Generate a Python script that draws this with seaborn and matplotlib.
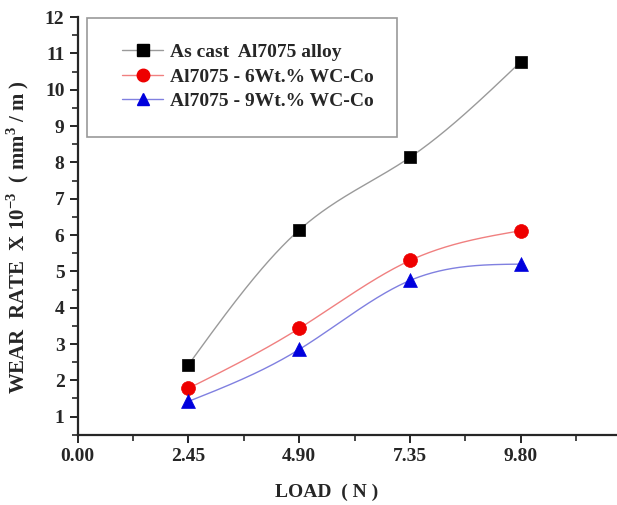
import numpy as np
import pandas as pd
import seaborn as sns
import matplotlib.pyplot as plt
from matplotlib.patches import Rectangle
from matplotlib.ticker import MultipleLocator

# data
load = [2.45, 4.90, 7.35, 9.80]
as_cast = [2.43, 6.14, 8.14, 10.77]
wc6 = [1.78, 3.43, 5.30, 6.12]
wc9 = [1.42, 2.85, 4.75, 5.20]
labels = ["As cast  Al7075 alloy", "Al7075 - 6Wt.% WC-Co", "Al7075 - 9Wt.% WC-Co"]
xticks = [0.00, 2.45, 4.90, 7.35, 9.80]

sns.set_style("ticks")
plt.rcParams['font.family'] = ['Liberation Serif', 'DejaVu Serif']
plt.rcParams['mathtext.fontset'] = 'custom'
plt.rcParams['mathtext.rm'] = 'Liberation Serif:bold'
plt.rcParams['mathtext.bf'] = 'Liberation Serif:bold'


def spline(x, y, n=200):
    # natural cubic spline, used only to draw the connecting line
    x = np.asarray(x, float); y = np.asarray(y, float)
    k = len(x); h = np.diff(x)
    A = np.zeros((k, k)); b = np.zeros(k)
    A[0, 0] = A[-1, -1] = 1
    for i in range(1, k - 1):
        A[i, i - 1] = h[i - 1]; A[i, i] = 2 * (h[i - 1] + h[i]); A[i, i + 1] = h[i]
        b[i] = 6 * ((y[i + 1] - y[i]) / h[i] - (y[i] - y[i - 1]) / h[i - 1])
    M = np.linalg.solve(A, b)
    xs = np.linspace(x[0], x[-1], n)
    j = np.clip(np.searchsorted(x, xs) - 1, 0, k - 2)
    t0 = x[j + 1] - xs; t1 = xs - x[j]
    ys = (M[j] * t0**3 + M[j + 1] * t1**3) / (6 * h[j]) \
        + (y[j] / h[j] - M[j] * h[j] / 6) * t0 + (y[j + 1] / h[j] - M[j + 1] * h[j] / 6) * t1
    return xs, ys


fig = plt.figure(figsize=(6.17, 5.05), dpi=100)
ax = fig.add_axes([0.126, 0.139, 0.874, 0.827])

series = [(as_cast, "#9a9a9a", "black", "s", 9),
          (wc6, "#f08080", "#ee0000", "o", 10),
          (wc9, "#8080e0", "#0000dd", "^", 10)]
handles = []
for (vals, lc, mc, mk, ms), lab in zip(series, labels):
    xs, ys = spline(load, vals)
    ax.plot(xs, ys, color=lc, lw=1.0)
    df = pd.DataFrame({"load": load, "rate": vals})
    sns.scatterplot(data=df, x="load", y="rate", ax=ax, marker=mk, s=ms**2,
                    color=mc, edgecolor=mc, linewidth=0.5, zorder=3)
    h, = ax.plot([], [], color=lc, lw=1.0, marker=mk, markersize=ms * 0.9,
                 markerfacecolor=mc, markeredgecolor=mc, label=lab)
    handles.append(h)

ax.set_xlim(0, 11.93)
ax.set_ylim(0.5, 12)
ax.set_xticks(xticks)
ax.set_xticklabels([f"{v:.2f}" for v in xticks])
ax.xaxis.set_minor_locator(MultipleLocator(1.225))
ax.yaxis.set_major_locator(MultipleLocator(1))
ax.yaxis.set_minor_locator(MultipleLocator(0.5))
ax.set_yticks(range(1, 13))
sns.despine(ax=ax)
for s in ["left", "bottom"]:
    ax.spines[s].set_linewidth(1.6)
ax.tick_params(which="major", direction="out", length=6, width=1.4, labelsize=14)
ax.tick_params(which="minor", direction="out", length=4, width=1.2)
for t in ax.get_xticklabels() + ax.get_yticklabels():
    t.set_fontweight("bold")

ax.set_xlabel("LOAD  ( N )", fontsize=14, fontweight="bold")
ax.xaxis.set_label_coords(0.462, -0.118)
ax.set_ylabel(r"WEAR  RATE  X 10$^{-3}$  ( mm$^{3}$ / m )", fontsize=15,
              fontweight="bold")
ax.yaxis.set_label_coords(-0.087, 0.474)

# legend frame drawn separately so its padding can match the reference
fig.patches.append(Rectangle((0.141, 0.729), 0.502, 0.235, transform=fig.transFigure,
                             fill=False, edgecolor="#999999", lw=1.2))
leg = ax.legend(handles=handles, loc="upper left", bbox_to_anchor=(0.198, 0.914),
                bbox_transform=fig.transFigure,
                prop={"weight": "bold", "size": 14}, frameon=False,
                borderpad=0, handlelength=2.1, labelspacing=0.36,
                handletextpad=0.36, borderaxespad=0)

fig.savefig("out.png", dpi=100)
